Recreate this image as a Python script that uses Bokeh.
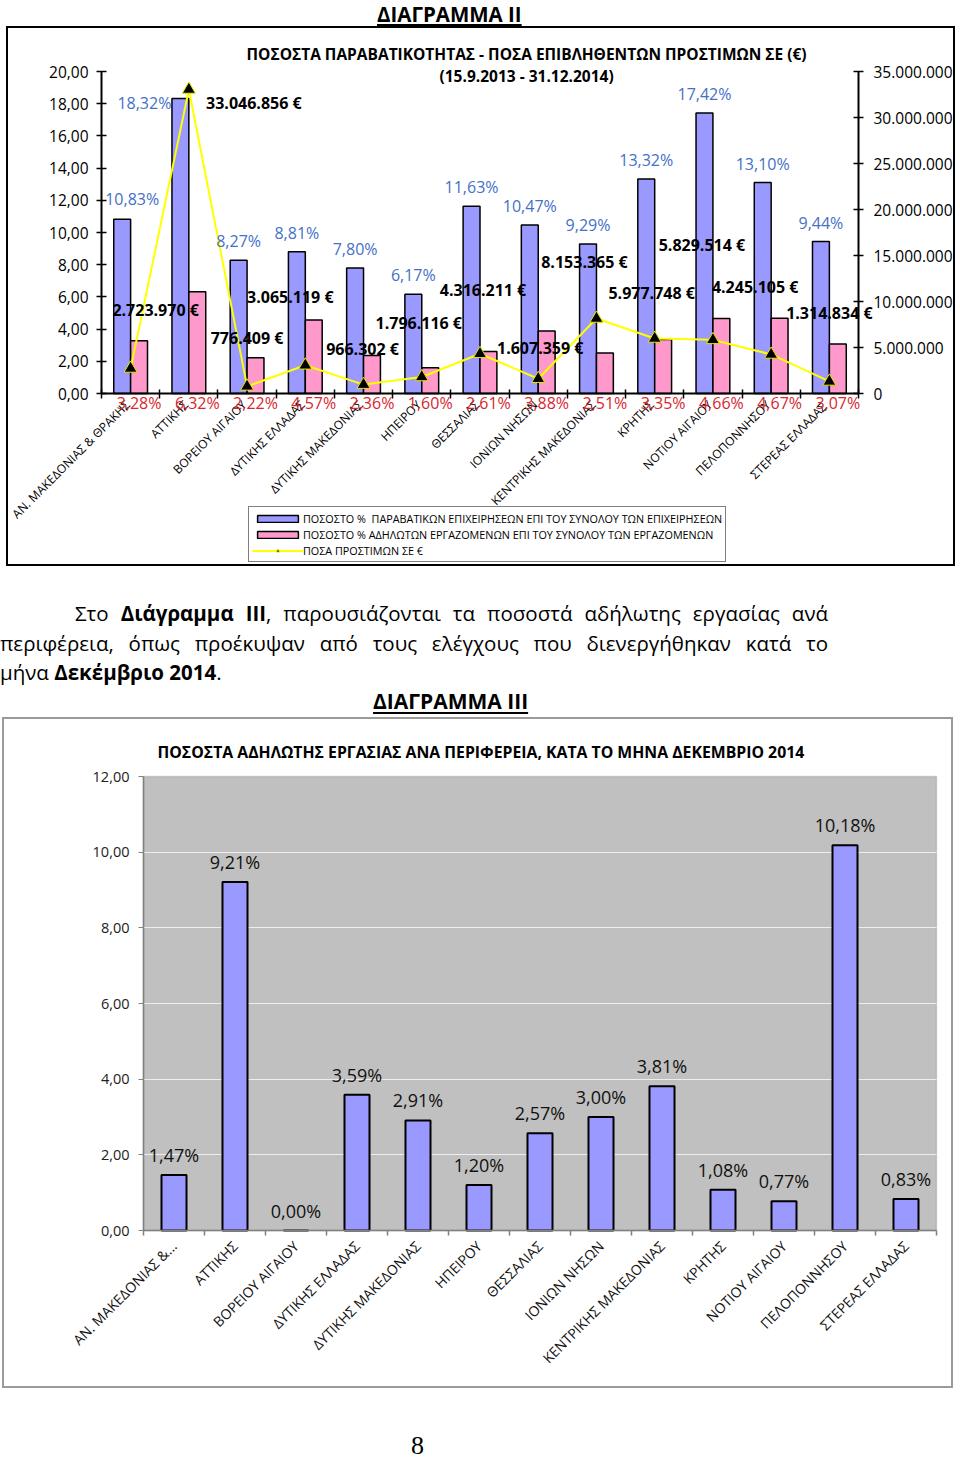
import numpy as np
from math import pi
from bokeh.plotting import figure
from bokeh.models import (Range1d, LinearAxis, FixedTicker, ColumnDataSource,
                          Label, LabelSet, Legend, LegendItem, Div, BoxAnnotation)
from bokeh.layouts import column
from bokeh.embed import file_html
from bokeh.resources import INLINE
from bokeh.core.properties import value

# ---------------- data ----------------
regions = ["ΑΝ. ΜΑΚΕΔΟΝΙΑΣ & ΘΡΑΚΗΣ", "ΑΤΤΙΚΗΣ", "ΒΟΡΕΙΟΥ ΑΙΓΑΙΟΥ", "ΔΥΤΙΚΗΣ ΕΛΛΑΔΑΣ",
           "ΔΥΤΙΚΗΣ ΜΑΚΕΔΟΝΙΑΣ", "ΗΠΕΙΡΟΥ", "ΘΕΣΣΑΛΙΑΣ", "ΙΟΝΙΩΝ ΝΗΣΩΝ",
           "ΚΕΝΤΡΙΚΗΣ ΜΑΚΕΔΟΝΙΑΣ", "ΚΡΗΤΗΣ", "ΝΟΤΙΟΥ ΑΙΓΑΙΟΥ", "ΠΕΛΟΠΟΝΝΗΣΟΥ",
           "ΣΤΕΡΕΑΣ  ΕΛΛΑΔΑΣ"]
regions_dec = ["ΑΝ. ΜΑΚΕΔΟΝΙΑΣ &...", "ΑΤΤΙΚΗΣ", "ΒΟΡΕΙΟΥ ΑΙΓΑΙΟΥ", "ΔΥΤΙΚΗΣ ΕΛΛΑΔΑΣ",
               "ΔΥΤΙΚΗΣ ΜΑΚΕΔΟΝΙΑΣ", "ΗΠΕΙΡΟΥ", "ΘΕΣΣΑΛΙΑΣ", "ΙΟΝΙΩΝ ΝΗΣΩΝ",
               "ΚΕΝΤΡΙΚΗΣ ΜΑΚΕΔΟΝΙΑΣ", "ΚΡΗΤΗΣ", "ΝΟΤΙΟΥ ΑΙΓΑΙΟΥ", "ΠΕΛΟΠΟΝΝΗΣΟΥ",
               "ΣΤΕΡΕΑΣ ΕΛΛΑΔΑΣ"]
pct_firms = [10.83, 18.32, 8.27, 8.81, 7.80, 6.17, 11.63, 10.47, 9.29, 13.32, 17.42, 13.10, 9.44]
pct_workers = [3.28, 6.32, 2.22, 4.57, 2.36, 1.60, 2.61, 3.88, 2.51, 3.35, 4.66, 4.67, 3.07]
fines_eur = [2723970, 33046856, 776409, 3065119, 966302, 1796116, 4316211, 1607359,
             8153365, 5977748, 5829514, 4245105, 1314834]
pct_undeclared_dec = [1.47, 9.21, 0.00, 3.59, 2.91, 1.20, 2.57, 3.00, 3.81, 1.08, 0.77, 10.18, 0.83]

left_ticks = [0, 2, 4, 6, 8, 10, 12, 14, 16, 18, 20]
right_ticks = [0, 5000000, 10000000, 15000000, 20000000, 25000000, 30000000, 35000000]
dec_ticks = [0, 2, 4, 6, 8, 10, 12]

legend_labels = ["ΠΟΣΟΣΤΟ %  ΠΑΡΑΒΑΤΙΚΩΝ ΕΠΙΧΕΙΡΗΣΕΩΝ ΕΠΙ ΤΟΥ ΣΥΝΟΛΟΥ ΤΩΝ ΕΠΙΧΕΙΡΗΣΕΩΝ",
                 "ΠΟΣΟΣΤΟ % ΑΔΗΛΩΤΩΝ ΕΡΓΑΖΟΜΕΝΩΝ ΕΠΙ ΤΟΥ ΣΥΝΟΛΟΥ ΤΩΝ ΕΡΓΑΖΟΜΕΝΩΝ",
                 "ΠΟΣΑ ΠΡΟΣΤΙΜΩΝ ΣΕ €"]

# label placement tweaks (screen pixels) -- styling only
firm_dx = [10, -36, 0, 0, 0, 0, 0, 0, 0, 0, 0, 0, 0]
firm_dy = [20, -4, 19, 19, 19, 19, 19, 19, 19, 19, 19, 19, 19]
fine_dx = [25, 65, 0, -15, -1, -3, 3, 2, -12, -3, -11, -16, 0]
fine_dy = [58, -14, 48, 68, 36, 54, 64, 31, 56, 46, 95, 67, 68]

FONT = "Open Sans"


def gr_dec(v):
    return f"{v:.2f}".replace(".", ",")


def gr_int(v):
    return f"{int(v):,}".replace(",", ".")


n = len(regions)
centers = [float(c) for c in np.arange(n) + 0.5]
bounds = [float(b) for b in range(n + 1)]
BW = 0.29

# ---------------- chart II (frame spans the whole box; axes are pinned) ----------------
W1, H1 = 949, 540
UX = 757 / 13.0          # px per category
UY = 322 / 20.0          # px per percentage unit
X0PX, Y0PX = 93, 365     # canvas position of the (0, 0) corner
x_lo, x_hi = -X0PX / UX, (W1 - X0PX) / UX
y_lo, y_hi = -(H1 - Y0PX) / UY, Y0PX / UY
EUR_PER_UNIT = 35000000 / 20.0

p1 = figure(width=W1, height=H1, x_range=Range1d(x_lo, x_hi), y_range=Range1d(y_lo, y_hi),
            output_backend="svg", toolbar_location=None, min_border=0,
            background_fill_color="white", border_fill_color="white",
            outline_line_color=None)
p1.xgrid.visible = False
p1.ygrid.visible = False
p1.styles = {"border": "2px solid #000"}
p1.margin = (0, 0, 0, 6)
p1.extra_y_ranges = {"fines": Range1d(y_lo * EUR_PER_UNIT, y_hi * EUR_PER_UNIT)}

src1 = ColumnDataSource(dict(
    xc=centers,
    xb=[c - BW / 2 for c in centers],
    xp=[c + BW / 2 for c in centers],
    region=regions,
    firms=pct_firms, workers=pct_workers, fines=fines_eur,
    firms_txt=[gr_dec(v) + "%" for v in pct_firms],
    workers_txt=[gr_dec(v) + "%" for v in pct_workers],
    fines_txt=[gr_int(v) + " €" for v in fines_eur],
    fdx=firm_dx, fdy=firm_dy, edx=fine_dx, edy=fine_dy,
    zero=[0] * n,
))

r_blue = p1.vbar(x="xb", top="firms", width=BW, source=src1,
                 fill_color="#9999FF", line_color="#000000", line_width=1.5)
r_pink = p1.vbar(x="xp", top="workers", width=BW, source=src1,
                 fill_color="#FF99CC", line_color="#000000", line_width=1.5)
r_line = p1.line(x="xc", y="fines", source=src1, y_range_name="fines",
                 line_color="#FFFF00", line_width=2)
r_tri = p1.scatter(x="xc", y="fines", source=src1, y_range_name="fines",
                   marker="triangle", size=13, fill_color="#000000",
                   line_color="#E6E600", line_width=1)

xa = p1.xaxis[0]
xa.fixed_location = 0
xa.bounds = (0, n)
xa.ticker = FixedTicker(ticks=centers, minor_ticks=bounds)
xa.major_label_overrides = {c: "" for c in centers}
xa.major_label_text_font_size = "0px"
xa.major_tick_in = 0
xa.major_tick_out = 0
xa.minor_tick_in = 4
xa.minor_tick_out = 5
xa.minor_tick_line_color = "#000000"
xa.minor_tick_line_width = 1.5
xa.axis_line_color = "#000000"
xa.axis_line_width = 2

ya = p1.yaxis[0]
ya.fixed_location = 0
ya.bounds = (0, 20)
ya.ticker = FixedTicker(ticks=left_ticks, minor_ticks=[])
ya.major_label_overrides = {t: gr_dec(t) for t in left_ticks}
ya.major_tick_in = 5
ya.major_tick_out = 5
ya.major_tick_line_width = 1.5
ya.axis_line_width = 2
ya.major_label_standoff = 8
ya.major_label_text_font = FONT
ya.major_label_text_font_size = "15.5px"
ya.major_label_text_color = "#000000"

ra = LinearAxis(y_range_name="fines", fixed_location=n, bounds=(0, 35000000),
                ticker=FixedTicker(ticks=right_ticks, minor_ticks=[]))
ra.major_label_overrides = {t: gr_int(t) for t in right_ticks}
ra.major_tick_in = 5
ra.major_tick_out = 5
ra.major_tick_line_width = 1.5
ra.axis_line_width = 2
ra.major_label_standoff = 10
ra.major_label_text_font = FONT
ra.major_label_text_font_size = "15.5px"
ra.major_label_text_color = "#000000"
p1.add_layout(ra, "right")

p1.add_layout(LabelSet(x="xc", y="zero", text="region", source=src1,
                       angle=pi / 4, x_offset=-3, y_offset=-9,
                       text_align="right", text_baseline="middle",
                       text_font=value(FONT), text_font_size="12px", text_color="#000000"))
p1.add_layout(LabelSet(x="xb", y="firms", text="firms_txt", source=src1,
                       x_offset="fdx", y_offset="fdy",
                       text_align="center", text_baseline="middle",
                       text_font=value(FONT), text_font_size="16px", text_color="#4470C8"))
p1.add_layout(LabelSet(x="xp", y="zero", text="workers_txt", source=src1,
                       y_offset=-9, text_align="center", text_baseline="middle",
                       text_font=value(FONT), text_font_size="16px", text_color="#D8262E"))
p1.add_layout(LabelSet(x="xc", y="fines", text="fines_txt", source=src1,
                       y_range_name="fines", x_offset="edx", y_offset="edy",
                       text_align="center", text_baseline="middle",
                       text_font=value(FONT), text_font_size="16px", text_font_style="bold",
                       text_color="#000000"))

p1.add_layout(Label(x=7.30, y=21.06, text="ΠΟΣΟΣΤΑ ΠΑΡΑΒΑΤΙΚΟΤΗΤΑΣ - ΠΟΣΑ ΕΠΙΒΛΗΘΕΝΤΩΝ ΠΡΟΣΤΙΜΩΝ ΣΕ (€)",
                    text_align="center", text_baseline="middle", text_font=FONT,
                    text_font_size="15.5px", text_font_style="bold", text_color="#000000"))
p1.add_layout(Label(x=7.30, y=19.75, text="(15.9.2013 - 31.12.2014)",
                    text_align="center", text_baseline="middle", text_font=FONT,
                    text_font_size="15.5px", text_font_style="bold", text_color="#000000"))

legend = Legend(items=[LegendItem(label=legend_labels[0], renderers=[r_blue]),
                       LegendItem(label=legend_labels[1], renderers=[r_pink]),
                       LegendItem(label=legend_labels[2], renderers=[r_line, r_tri])],
                location=(240, 6), orientation="vertical",
                label_text_font=FONT, label_text_font_size="10.8px", label_text_color="#000000",
                glyph_width=51, glyph_height=9, label_height=16, label_standoff=0,
                spacing=0, padding=3, margin=0,
                border_line_color="#000000", border_line_width=1.5,
                background_fill_color="white", background_fill_alpha=1)
p1.add_layout(legend, "center")

# ---------------- chart III (frame spans the whole box; axes are pinned) ----------------
W2, H2 = 951, 671
UX2 = 793 / 13.0
UY2 = 454 / 12.0
X0PX2, Y0PX2 = 139, 511
x2_lo, x2_hi = -X0PX2 / UX2, (W2 - X0PX2) / UX2
y2_lo, y2_hi = -(H2 - Y0PX2) / UY2, Y0PX2 / UY2

p2 = figure(width=W2, height=H2, x_range=Range1d(x2_lo, x2_hi), y_range=Range1d(y2_lo, y2_hi),
            output_backend="svg", toolbar_location=None, min_border=0,
            background_fill_color="white", border_fill_color="white",
            outline_line_color=None)
p2.styles = {"border": "2px solid #9A9A9A"}
p2.margin = (0, 0, 0, 2)
p2.xgrid.visible = False

# plot area
p2.add_layout(BoxAnnotation(left=0, right=n, bottom=0, top=dec_ticks[-1],
                            fill_color="#C0C0C0", fill_alpha=1.0,
                            line_color="#808080", line_width=1.5, level="image"))

grid_ok = True
try:
    p2.ygrid.cross_bounds = (0, n)
except Exception:
    grid_ok = False
if grid_ok:
    p2.ygrid.ticker = FixedTicker(ticks=dec_ticks[1:-1])
    p2.ygrid.grid_line_color = "#EEEEEE"
    p2.ygrid.grid_line_width = 1
else:
    p2.ygrid.visible = False
    gy = dec_ticks[1:-1]
    p2.segment(x0=[0] * len(gy), x1=[n] * len(gy), y0=gy, y1=gy,
               line_color="#EEEEEE", line_width=1)

src2 = ColumnDataSource(dict(xc=centers, val=pct_undeclared_dec,
                             txt=[gr_dec(v) + "%" for v in pct_undeclared_dec]))
p2.vbar(x="xc", top="val", width=0.41, source=src2,
        fill_color="#9999FF", line_color="#000000", line_width=2)
p2.add_layout(LabelSet(x="xc", y="val", text="txt", source=src2, y_offset=20,
                       text_align="center", text_baseline="middle",
                       text_font=value(FONT), text_font_size="18px", text_color="#111111"))
p2.add_layout(Label(x=14 / UX2, y=(1230 - 751) / UY2,
                    text="ΠΟΣΟΣΤΑ ΑΔΗΛΩΤΗΣ ΕΡΓΑΣΙΑΣ ΑΝΑ ΠΕΡΙΦΕΡΕΙΑ, ΚΑΤΑ ΤΟ ΜΗΝΑ  ΔΕΚΕΜΒΡΙΟ 2014",
                    text_align="left", text_baseline="middle", text_font=FONT,
                    text_font_size="15.8px", text_font_style="bold", text_color="#000000"))

xb = p2.xaxis[0]
xb.fixed_location = 0
xb.bounds = (0, n)
xb.ticker = FixedTicker(ticks=centers, minor_ticks=bounds)
xb.major_label_overrides = {c: r for c, r in zip(centers, regions_dec)}
xb.major_tick_in = 0
xb.major_tick_out = 0
xb.minor_tick_in = 0
xb.minor_tick_out = 5
xb.minor_tick_line_color = "#808080"
xb.minor_tick_line_width = 1.5
xb.axis_line_color = "#808080"
xb.axis_line_width = 1.5
xb.major_label_orientation = pi / 4
xb.major_label_standoff = 8
xb.major_label_text_font = FONT
xb.major_label_text_font_size = "14px"
xb.major_label_text_color = "#111111"

yb = p2.yaxis[0]
yb.fixed_location = 0
yb.bounds = (0, 12)
yb.ticker = FixedTicker(ticks=dec_ticks, minor_ticks=[])
yb.major_label_overrides = {t: gr_dec(t) for t in dec_ticks}
yb.major_tick_in = 0
yb.major_tick_out = 5
yb.major_tick_line_color = "#808080"
yb.axis_line_color = "#808080"
yb.axis_line_width = 1.5
yb.major_label_standoff = 9
yb.major_label_text_font = FONT
yb.major_label_text_font_size = "14.5px"
yb.major_label_text_color = "#222222"

# ---------------- page texts ----------------
title2 = Div(text=(
    '<div style="position:relative;width:950px;height:26px;">'
    '<span style="position:absolute;left:377px;top:0px;font-family:\'Open Sans\';'
    'font-weight:bold;font-size:20.5px;line-height:normal;'
    'text-decoration:underline;text-decoration-thickness:2px;text-underline-offset:1.5px;'
    'color:#000;white-space:nowrap;">ΔΙΑΓΡΑΜΜΑ ΙΙ</span></div>'),
    width=950, height=26, margin=(0, 0, 0, 0))

para = Div(text=(
    '<div style="position:relative;width:950px;height:151px;font-family:\'Open Sans\';'
    'font-size:20.5px;line-height:30px;color:#000;">'
    '<div style="position:absolute;left:75px;top:32px;width:753px;text-align:justify;'
    'text-align-last:justify;">Στο <b>Διάγραμμα ΙΙΙ</b>, παρουσιάζονται τα ποσοστά '
    'αδήλωτης εργασίας ανά</div>'
    '<div style="position:absolute;left:0px;top:62px;width:828px;text-align:justify;'
    'text-align-last:justify;">περιφέρεια, όπως προέκυψαν από τους ελέγχους που '
    'διενεργήθηκαν κατά το</div>'
    '<div style="position:absolute;left:0px;top:91px;white-space:nowrap;">μήνα '
    '<b>Δεκέμβριο 2014</b>.</div>'
    '<span style="position:absolute;left:373px;top:125px;font:bold 21px/1 \'Open Sans\';'
    'text-decoration:underline;text-decoration-thickness:2px;text-underline-offset:3px;'
    'white-space:nowrap;">ΔΙΑΓΡΑΜΜΑ ΙΙΙ</span>'
    '</div>'),
    width=950, height=151, margin=(0, 0, 0, 0))

pagenum = Div(text=(
    '<div style="position:relative;width:950px;height:72px;">'
    '<span style="position:absolute;left:411px;top:45px;font:26px/1 \'Liberation Serif\';'
    'color:#000;">8</span></div>'),
    width=950, height=72, margin=(0, 0, 0, 0))

layout = column(title2, p1, para, p2, pagenum, spacing=0, margin=(0, 0, 0, 0))

with open("out.html", "w") as f:
    f.write(file_html(layout, INLINE))
